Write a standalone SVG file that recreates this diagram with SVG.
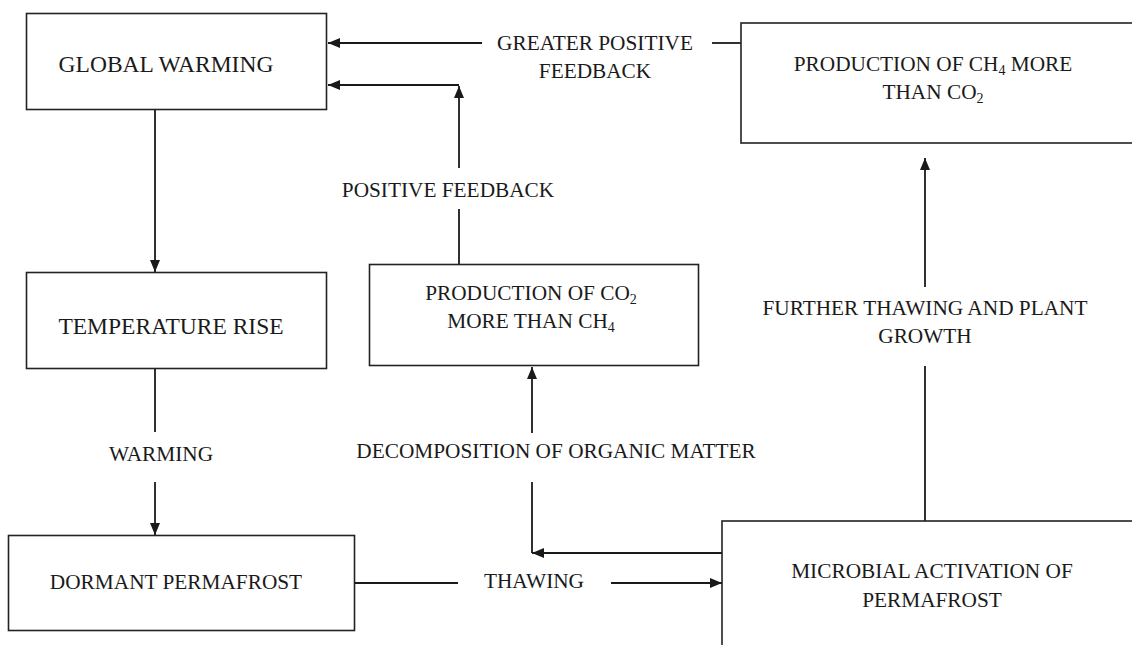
<svg xmlns="http://www.w3.org/2000/svg" width="1132" height="645" viewBox="0 0 1132 645">
<defs>
<style>
.box{fill:#fff;stroke:#222;stroke-width:1.6}
.ln{fill:none;stroke:#1a1a1a;stroke-width:1.8}
text{font-family:"Liberation Serif","Times New Roman",serif;font-size:21.3px;fill:#1a1a1a;text-anchor:middle}
.big{font-size:23.5px}
.sub{font-size:14px}
</style>
<marker id="ah" viewBox="0 0 12 10" refX="12" refY="5" markerWidth="12" markerHeight="10" markerUnits="userSpaceOnUse" orient="auto">
<path d="M0,0 L12,5 L0,10 Z" fill="#1a1a1a"/>
</marker>
</defs>
<rect width="1132" height="645" fill="#fff"/>
<g id="connectors">
<line class="ln" x1="155" y1="109" x2="155" y2="272" marker-end="url(#ah)"/>
<line class="ln" x1="155" y1="369" x2="155" y2="432"/>
<line class="ln" x1="155" y1="482" x2="155" y2="535" marker-end="url(#ah)"/>
<line class="ln" x1="741" y1="43" x2="712" y2="43"/>
<line class="ln" x1="482" y1="43" x2="328" y2="43" marker-end="url(#ah)"/>
<line class="ln" x1="459" y1="85" x2="328" y2="85" marker-end="url(#ah)"/>
<line class="ln" x1="459" y1="264" x2="459" y2="209"/>
<line class="ln" x1="459" y1="168" x2="459" y2="86" marker-end="url(#ah)"/>
<line class="ln" x1="355" y1="583" x2="458" y2="583"/>
<line class="ln" x1="611" y1="583" x2="722" y2="583" marker-end="url(#ah)"/>
<line class="ln" x1="722" y1="553" x2="532" y2="553" marker-end="url(#ah)"/>
<line class="ln" x1="532" y1="553" x2="532" y2="482"/>
<line class="ln" x1="532" y1="433" x2="532" y2="367" marker-end="url(#ah)"/>
<line class="ln" x1="925" y1="521" x2="925" y2="366"/>
<line class="ln" x1="925" y1="287" x2="925" y2="158" marker-end="url(#ah)"/>
<text x="595" y="50">GREATER POSITIVE</text>
<text x="595" y="78">FEEDBACK</text>
<text x="448" y="197">POSITIVE FEEDBACK</text>
<text x="161" y="461">WARMING</text>
<text x="556" y="458">DECOMPOSITION OF ORGANIC MATTER</text>
<text x="534" y="588">THAWING</text>
<text x="925" y="315">FURTHER THAWING AND PLANT</text>
<text x="925" y="343">GROWTH</text>
</g>
<g id="global-warming">
<rect class="box" x="26.5" y="13.5" width="300" height="96"/>
<text class="big" x="166" y="72">GLOBAL WARMING</text>
</g>
<g id="temperature-rise">
<rect class="box" x="26.5" y="272.5" width="300" height="96"/>
<text class="big" x="171" y="334">TEMPERATURE RISE</text>
</g>
<g id="dormant-permafrost">
<rect class="box" x="8.5" y="535.5" width="346" height="95"/>
<text x="176" y="589">DORMANT PERMAFROST</text>
</g>
<g id="production-co2">
<rect class="box" x="369.5" y="264.5" width="329" height="101"/>
<text x="531" y="300">PRODUCTION OF CO<tspan class="sub" dy="4">2</tspan></text>
<text x="531" y="328">MORE THAN CH<tspan class="sub" dy="4">4</tspan></text>
</g>
<g id="production-ch4">
<rect class="box" x="741" y="23" width="400" height="120"/>
<text x="933" y="71">PRODUCTION OF CH<tspan class="sub" dy="4">4</tspan><tspan dy="-4"> MORE</tspan></text>
<text x="933" y="99">THAN CO<tspan class="sub" dy="4">2</tspan></text>
</g>
<g id="microbial-activation">
<rect class="box" x="722" y="521" width="420" height="140"/>
<text x="932" y="578">MICROBIAL ACTIVATION OF</text>
<text x="932" y="607">PERMAFROST</text>
</g>
</svg>
